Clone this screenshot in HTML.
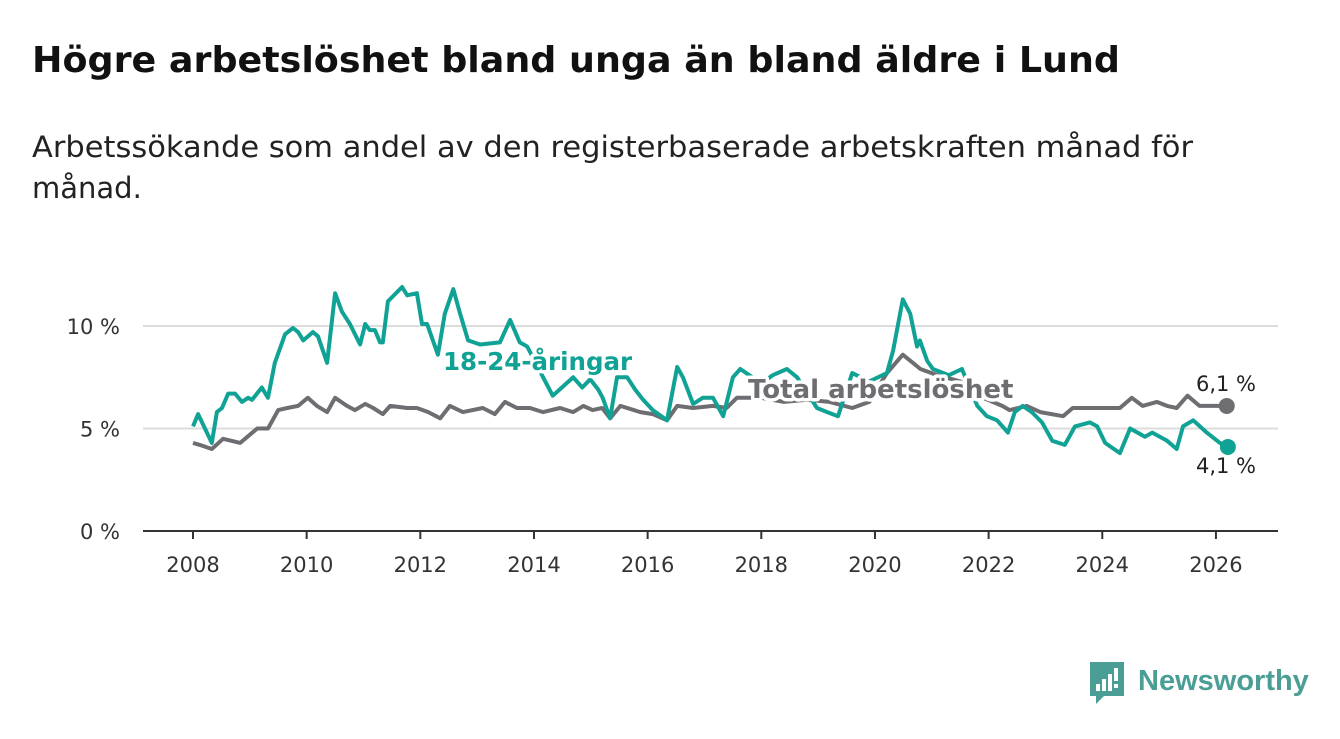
<!DOCTYPE html>
<html><head><meta charset="utf-8"><style>
body{margin:0;background:#fff;width:1340px;height:734px;overflow:hidden;font-family:"Liberation Sans","DejaVu Sans",sans-serif}
</style></head><body>
<svg width="1340" height="734" viewBox="0 0 1340 734">
<text x="32" y="72" font-size="36" font-weight="bold" fill="#111" font-family="DejaVu Sans, sans-serif" textLength="1088" lengthAdjust="spacingAndGlyphs">Högre arbetslöshet bland unga än bland äldre i Lund</text>
<text x="32" y="157" font-size="29" fill="#222" font-family="DejaVu Sans, sans-serif" textLength="1161" lengthAdjust="spacingAndGlyphs">Arbetssökande som andel av den registerbaserade arbetskraften månad för</text>
<text x="32" y="198" font-size="29" fill="#222" font-family="DejaVu Sans, sans-serif">månad.</text>
<g id="grid"></g>
<g id="series"></g>
<g id="labels"></g>
<g>
<path d="M1090 662h34v34h-20l-8 8v-8h-6z" fill="#4a9e95"/>
<rect x="1096" y="684" width="4" height="7" fill="#fff"/>
<rect x="1102" y="679" width="4" height="12" fill="#fff"/>
<rect x="1108" y="674" width="4" height="17" fill="#fff"/>
<rect x="1114" y="668" width="4" height="13" fill="#fff"/>
<rect x="1114" y="684" width="4" height="4" fill="#fff"/>
<text x="1138" y="690" font-size="29" font-weight="bold" fill="#4a9e95">Newsworthy</text>
</g>
</svg>
<script>
const youthYears=[2008.00,2008.09,2008.33,2008.42,2008.51,2008.62,2008.74,2008.86,2008.97,2009.04,2009.21,2009.32,2009.44,2009.62,2009.76,2009.85,2009.94,2010.11,2010.20,2010.36,2010.50,2010.62,2010.76,2010.94,2011.03,2011.11,2011.20,2011.29,2011.34,2011.43,2011.68,2011.77,2011.94,2012.03,2012.12,2012.31,2012.43,2012.58,2012.70,2012.84,2013.05,2013.40,2013.58,2013.75,2013.88,2014.16,2014.33,2014.69,2014.85,2014.99,2015.13,2015.21,2015.34,2015.46,2015.64,2015.78,2015.92,2016.09,2016.34,2016.52,2016.62,2016.80,2016.97,2017.15,2017.33,2017.50,2017.63,2018.00,2018.20,2018.45,2018.63,2018.98,2019.16,2019.35,2019.60,2019.90,2020.21,2020.32,2020.49,2020.62,2020.74,2020.79,2020.92,2021.02,2021.30,2021.53,2021.80,2021.97,2022.15,2022.34,2022.46,2022.60,2022.76,2022.94,2023.12,2023.34,2023.52,2023.78,2023.91,2024.05,2024.31,2024.49,2024.75,2024.88,2025.14,2025.31,2025.42,2025.60,2025.84,2026.07,2026.21];
const youthValues=[5.1,5.7,4.3,5.8,6.0,6.7,6.7,6.3,6.5,6.4,7.0,6.5,8.2,9.6,9.9,9.7,9.3,9.7,9.5,8.2,11.6,10.7,10.1,9.1,10.1,9.8,9.8,9.2,9.2,11.2,11.9,11.5,11.6,10.1,10.1,8.6,10.6,11.8,10.6,9.3,9.1,9.2,10.3,9.2,9.0,7.5,6.6,7.5,7.0,7.4,6.9,6.5,5.5,7.5,7.5,6.9,6.4,5.9,5.4,8.0,7.5,6.2,6.5,6.5,5.6,7.5,7.9,7.2,7.6,7.9,7.5,6.0,5.8,5.6,7.7,7.3,7.7,8.8,11.3,10.6,9.0,9.3,8.3,7.9,7.6,7.9,6.1,5.6,5.4,4.8,5.8,6.1,5.8,5.3,4.4,4.2,5.1,5.3,5.1,4.3,3.8,5.0,4.6,4.8,4.4,4.0,5.1,5.4,4.8,4.3,4.1];
const totalYears=[2008.00,2008.12,2008.33,2008.53,2008.83,2009.13,2009.32,2009.50,2009.66,2009.85,2010.02,2010.18,2010.36,2010.50,2010.71,2010.85,2011.03,2011.17,2011.34,2011.47,2011.77,2011.94,2012.14,2012.35,2012.52,2012.75,2013.10,2013.31,2013.49,2013.70,2013.93,2014.16,2014.46,2014.69,2014.87,2015.03,2015.20,2015.34,2015.52,2015.87,2016.09,2016.34,2016.52,2016.80,2017.15,2017.39,2017.57,2018.00,2018.40,2018.80,2019.20,2019.60,2019.90,2020.21,2020.49,2020.67,2020.80,2021.10,2021.50,2021.90,2022.24,2022.37,2022.67,2022.91,2023.31,2023.48,2023.73,2023.96,2024.31,2024.52,2024.71,2024.96,2025.14,2025.31,2025.50,2025.71,2025.94,2026.19];
const totalValues=[4.3,4.2,4.0,4.5,4.3,5.0,5.0,5.9,6.0,6.1,6.5,6.1,5.8,6.5,6.1,5.9,6.2,6.0,5.7,6.1,6.0,6.0,5.8,5.5,6.1,5.8,6.0,5.7,6.3,6.0,6.0,5.8,6.0,5.8,6.1,5.9,6.0,5.5,6.1,5.8,5.7,5.4,6.1,6.0,6.1,6.0,6.5,6.5,6.3,6.4,6.3,6.0,6.3,7.7,8.6,8.2,7.9,7.6,7.3,6.5,6.1,5.9,6.1,5.8,5.6,6.0,6.0,6.0,6.0,6.5,6.1,6.3,6.1,6.0,6.6,6.1,6.1,6.1];
const yTicks=[0,5,10];
const yTickLabels=["0 %","5 %","10 %"];
const xTicks=[2008,2010,2012,2014,2016,2018,2020,2022,2024,2026];
const NS="http://www.w3.org/2000/svg";
const X=y=>193+(y-2008)*56.83;
const Y=v=>531-v*20.5;
function mk(tag,attrs,parent,txt){const e=document.createElementNS(NS,tag);for(const k in attrs)e.setAttribute(k,attrs[k]);if(txt!==undefined)e.textContent=txt;parent.appendChild(e);return e;}
const grid=document.getElementById('grid');
yTicks.forEach((t,i)=>{
  if(t>0){const l=mk('line',{x1:143,x2:1278,y1:Y(t),y2:Y(t),stroke:'#dcdcdc','stroke-width':2},grid);
  
  }
  const tx=mk('text',{x:120,y:Y(t)+8,'text-anchor':'end','font-size':21,fill:'#333','font-family':'DejaVu Sans, sans-serif'},grid,yTickLabels[i]);
  
  
});
const ax=mk('line',{x1:143,x2:1278,y1:531,y2:531,stroke:'#333','stroke-width':2},grid);


xTicks.forEach(t=>{
  const tk=mk('line',{x1:X(t),x2:X(t),y1:531,y2:539,stroke:'#333','stroke-width':2},grid);
  
  
  const tx=mk('text',{x:X(t),y:572,'text-anchor':'middle','font-size':21,fill:'#333','font-family':'DejaVu Sans, sans-serif'},grid,String(t));
  
  
});
const s=document.getElementById('series');
function pts(xs,vs){return xs.map((x,i)=>X(x).toFixed(1)+','+Y(vs[i]).toFixed(1)).join(' ');}
const tl=mk('polyline',{points:pts(totalYears,totalValues),fill:'none',stroke:'#6e6d72','stroke-width':4,'stroke-linejoin':'round'},s);


const yl=mk('polyline',{points:pts(youthYears,youthValues),fill:'none',stroke:'#10a294','stroke-width':4,'stroke-linejoin':'round'},s);


const tn=totalYears.length-1, yn=youthYears.length-1;
const td=mk('circle',{cx:X(totalYears[tn]),cy:Y(totalValues[tn]),r:8,fill:'#6e6d72'},s);


const yd=mk('circle',{cx:X(youthYears[yn]),cy:Y(youthValues[yn]),r:8,fill:'#10a294'},s);


const L=document.getElementById('labels');
const a=mk('text',{x:443,y:370,'font-size':24.5,'font-weight':'bold',fill:'#10a294',stroke:'#fff','stroke-width':7,'paint-order':'stroke','stroke-linejoin':'round','font-family':'DejaVu Sans, sans-serif'},L,'18-24-åringar');


const b=mk('text',{x:748,y:398,'font-size':26,'font-weight':'bold',fill:'#6e6d72',stroke:'#fff','stroke-width':7,'paint-order':'stroke','stroke-linejoin':'round','font-family':'DejaVu Sans, sans-serif'},L,'Total arbetslöshet');


const c=mk('text',{x:1226,y:391,'text-anchor':'middle','font-size':21,fill:'#222','font-family':'DejaVu Sans, sans-serif'},L,totalValues[tn].toFixed(1).replace('.',',')+' %');


const d=mk('text',{x:1226,y:473,'text-anchor':'middle','font-size':21,fill:'#222','font-family':'DejaVu Sans, sans-serif'},L,youthValues[yn].toFixed(1).replace('.',',')+' %');


</script>
</body></html>
